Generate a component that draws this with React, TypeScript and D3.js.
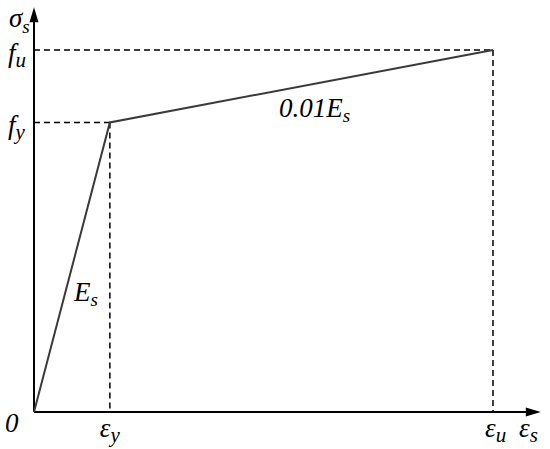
import React from "react";
import * as d3 from "d3";

const strainPts = [0, 1, 6.05];
const stressPts = [0, 1, 1.25];
const axisEnd = { x: 6.68, y: 1.398 };

const W = 550, H = 449;
const x = d3.scaleLinear().domain([0, 6.05]).range([34, 493]);
const y = d3.scaleLinear().domain([0, 1.25]).range([412, 50]);

export default function App() {
  const line = d3.line<number>().x((_, i) => x(strainPts[i])).y((d) => y(d));
  const curve = line(stressPts) || "";
  const x0 = x(0), y0 = y(0);
  const xe = x(axisEnd.x), ye = y(axisEnd.y);
  const [xy, xu] = [x(strainPts[1]), x(strainPts[2])];
  const [yy, yu] = [y(stressPts[1]), y(stressPts[2])];
  const sub = (t: string, size: number, dy: number) => (
    <tspan style={{ fontSize: size }} dy={dy}>{t}</tspan>
  );
  return (
    <svg width={W} height={H} style={{ position: "absolute", left: 0, top: 0, background: "#fff", fontFamily: "serif" }}>
      <rect width={W} height={H} fill="#fff" />
      <g stroke="#000" strokeWidth={1.5} strokeDasharray="6,4" fill="none">
        <line x1={x0} y1={yu} x2={xu} y2={yu} />
        <line x1={x0} y1={yy} x2={xy} y2={yy} />
        <line x1={xy} y1={yy} x2={xy} y2={y0} />
        <line x1={xu} y1={yu} x2={xu} y2={y0} />
      </g>
      <line x1={x0} y1={y0} x2={xe - 12} y2={y0} stroke="#000" strokeWidth={2} />
      <line x1={x0} y1={y0} x2={x0} y2={ye + 12} stroke="#000" strokeWidth={2} />
      <path d={`M${xe},${y0} L${xe - 15},${y0 - 4.5} L${xe - 15},${y0 + 4.5} Z`} fill="#000" />
      <path d={`M${x0},${ye} L${x0 - 4.5},${ye + 15} L${x0 + 4.5},${ye + 15} Z`} fill="#000" />
      <path d={curve} stroke="#3a3a3a" strokeWidth={2} fill="none" />
      <g style={{ fontFamily: "serif", fontStyle: "italic", fontSize: 27 }} fill="#000">
        <text x={9} y={27}>σ{sub("s", 19, 6)}</text>
        <text x={8} y={62}>f{sub("u", 21, 5)}</text>
        <text x={8} y={134}>f{sub("y", 21, 5)}</text>
        <text x={5} y={432}>0</text>
        <text x={xy - 10} y={437}>ε{sub("y", 21, 5)}</text>
        <text x={xu - 8} y={437}>ε{sub("u", 21, 5)}</text>
        <text x={519} y={437}>ε{sub("s", 21, 5)}</text>
        <text x={74} y={301}>E{sub("s", 19, 5)}</text>
        <text x={279} y={117}>0.01E{sub("s", 19, 5)}</text>
      </g>
    </svg>
  );
}
